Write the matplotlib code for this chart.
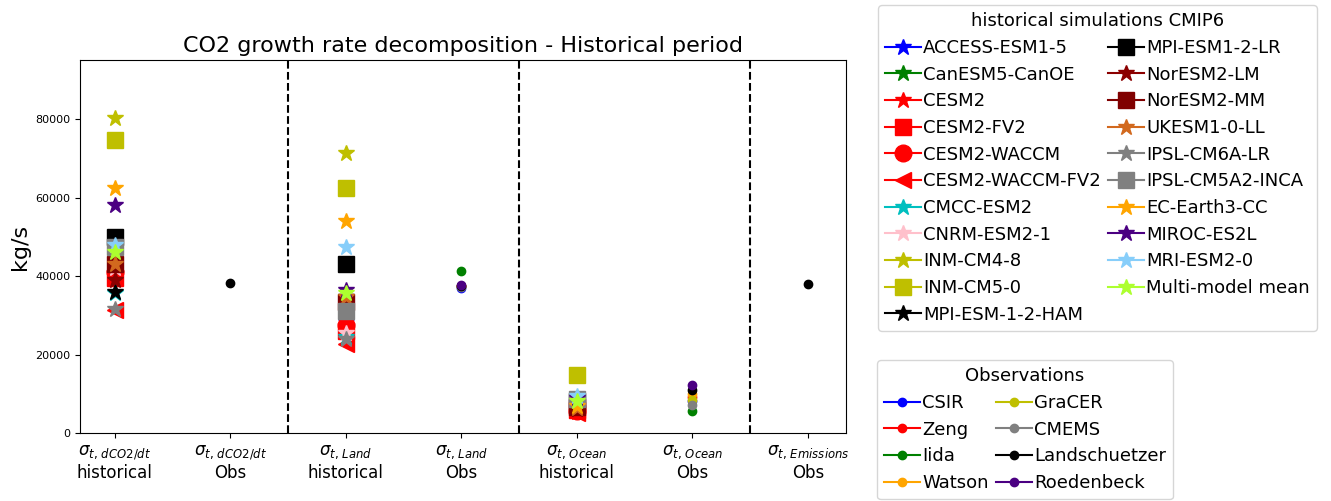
import matplotlib
matplotlib.use("Agg")
import matplotlib.pyplot as plt
from matplotlib.lines import Line2D

# ---------------- data ----------------
xtick_labels = [r"$\sigma_{t,\,dCO2/dt}$" + "\nhistorical",
                r"$\sigma_{t,\,dCO2/dt}$" + "\nObs",
                r"$\sigma_{t,\,Land}$" + "\nhistorical",
                r"$\sigma_{t,\,Land}$" + "\nObs",
                r"$\sigma_{t,\,Ocean}$" + "\nhistorical",
                r"$\sigma_{t,\,Ocean}$" + "\nObs",
                r"$\sigma_{t,\,Emissions}$" + "\nObs"]

models = ["ACCESS-ESM1-5", "CanESM5-CanOE", "CESM2", "CESM2-FV2", "CESM2-WACCM",
          "CESM2-WACCM-FV2", "CMCC-ESM2", "CNRM-ESM2-1", "INM-CM4-8", "INM-CM5-0",
          "MPI-ESM-1-2-HAM", "MPI-ESM1-2-LR", "NorESM2-LM", "NorESM2-MM",
          "UKESM1-0-LL", "IPSL-CM6A-LR", "IPSL-CM5A2-INCA", "EC-Earth3-CC",
          "MIROC-ES2L", "MRI-ESM2-0", "Multi-model mean"]
model_colors = ["blue", "green", "red", "red", "red", "red", "c", "pink", "y", "y",
                "black", "black", "darkred", "maroon", "chocolate", "grey", "grey",
                "orange", "indigo", "lightskyblue", "greenyellow"]
model_markers = ["*", "*", "*", "s", "o", "<", "*", "*", "*", "s",
                 "*", "s", "*", "s", "*", "*", "s", "*", "*", "*", "*"]

# values (kg/s): dCO2/dt historical, Land historical, Ocean historical
hist_dco2 = [41000, 44000, 40000, 39500, 41000, 31300, 35700, 42000, 80300, 74600,
             36000, 49900, 39000, 43000, 43000, 31700, 47500, 62500, 58000, 47900, 46200]
hist_land = [28400, 34600, 27000, 26100, 27500, 22700, 24500, 25600, 71400, 62500,
             33000, 43100, 33800, 33500, 34800, 24000, 31100, 54000, 36500, 47500, 35600]
hist_ocean = [7200, 6800, 5500, 5900, 5600, 5200, 7300, 7000, 8200, 14800,
              7500, 8200, 6300, 6600, 6500, 8400, 8800, 6900, 9100, 9400, 8100]

obs_names = ["CSIR", "Zeng", "Iida", "Watson", "GraCER", "CMEMS", "Landschuetzer", "Roedenbeck"]
obs_colors = ["blue", "red", "green", "orange", "y", "grey", "black", "indigo"]
obs_land = [37100, 37400, 41400, 37600, 37500, 37300, 37500, 37800]
obs_ocean = [8300, 9200, 5700, 9900, 8600, 7300, 10900, 12200]
obs_dco2 = [38200]
obs_emissions = [38000]

# ---------------- figure ----------------
W, H = 1331, 501
fig = plt.figure(figsize=(W / 100, H / 100), dpi=100)
ax = fig.add_axes([80 / W, (H - 433.3) / H, (846 - 80) / W, (433.3 - 60) / H])

for name, col, mk, d, l, o in zip(models, model_colors, model_markers,
                                  hist_dco2, hist_land, hist_ocean):
    ax.plot([0, 2, 4], [d, l, o], linestyle="none", marker=mk, color=col,
            markersize=12)

ax.plot([1], obs_dco2, linestyle="none", marker="o", color="black", markersize=6)
for col, l, o in zip(obs_colors, obs_land, obs_ocean):
    ax.plot([3], [l], linestyle="none", marker="o", color=col, markersize=6)
    ax.plot([5], [o], linestyle="none", marker="o", color=col, markersize=6)
ax.plot([6], obs_emissions, linestyle="none", marker="o", color="black", markersize=6)

for xv in [1.5, 3.5, 5.5]:
    ax.axvline(xv, color="black", linestyle="--", linewidth=1.5)

ax.set_xlim(-0.3, 6.33)
ax.set_ylim(0, 95000)
ax.set_xticks(range(7))
ax.set_xticklabels(xtick_labels, fontsize=12)
ax.tick_params(axis="y", labelsize=8)
ax.set_ylabel("kg/s", fontsize=16)
ax.set_title("CO2 growth rate decomposition - Historical period", fontsize=16)

# legends
common = dict(ncol=2, loc="upper left", bbox_transform=fig.transFigure,
              borderaxespad=0, fontsize=13, title_fontsize=13, labelspacing=0.48,
              columnspacing=0.4, handletextpad=0.1, edgecolor="0.8", framealpha=0.8)
h1 = [Line2D([], [], color=c, marker=m, markersize=12) for c, m in zip(model_colors, model_markers)]
leg1 = fig.legend(h1, models, title="historical simulations CMIP6",
                  bbox_to_anchor=(878 / W, 1 - 5 / H), **common)
h2 = [Line2D([], [], color=c, marker="o", markersize=6) for c in obs_colors]
leg2 = fig.legend(h2, obs_names, title="Observations",
                  bbox_to_anchor=(877 / W, 1 - 360 / H), **common)

fig.savefig("out.png", dpi=100)
